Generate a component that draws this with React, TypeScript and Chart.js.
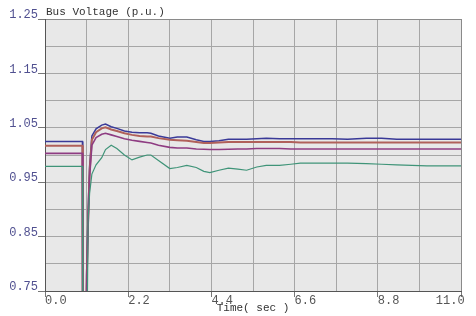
import React, { useEffect, useRef } from "react";
import { Chart, registerables } from "chart.js";

Chart.register(...registerables);

// Time axis (seconds)
const TIME = [
  0, 0.99, 1.0, 1.09, 1.1, 1.14, 1.18, 1.24, 1.35, 1.5, 1.6, 1.75, 1.9, 2.1, 2.3, 2.5, 2.7, 2.8,
  3.0, 3.3, 3.5, 3.75, 4.0, 4.2, 4.36, 4.6, 4.85, 5.1, 5.33, 5.6, 5.85, 6.2, 6.5, 6.75, 7.2, 7.6,
  8.0, 8.5, 8.9, 9.3, 9.7, 10.1, 10.5, 11.0,
];

// Bus voltages (p.u.)
const BUS_BLUE = [
  1.025, 1.025, 0.5, 0.5, 0.78, 0.9, 0.98, 1.035, 1.048, 1.055, 1.057, 1.052, 1.049, 1.044, 1.042,
  1.041, 1.041, 1.04, 1.035, 1.031, 1.033, 1.033, 1.028, 1.025, 1.025, 1.026, 1.029, 1.029, 1.029,
  1.03, 1.031, 1.03, 1.03, 1.03, 1.03, 1.03, 1.029, 1.031, 1.031, 1.029, 1.029, 1.029, 1.029, 1.029,
];
const BUS_BROWN = [
  1.017, 1.017, 0.5, 0.5, 0.76, 0.88, 0.97, 1.028, 1.042, 1.049, 1.051, 1.047, 1.044, 1.04, 1.037,
  1.035, 1.034, 1.034, 1.031, 1.028, 1.027, 1.026, 1.024, 1.022, 1.022, 1.023, 1.024, 1.024, 1.024,
  1.024, 1.024, 1.024, 1.024, 1.023, 1.023, 1.023, 1.023, 1.023, 1.023, 1.023, 1.023, 1.023, 1.023, 1.023,
];
const BUS_PURPLE = [
  1.003, 1.003, 0.5, 0.5, 0.75, 0.87, 0.96, 1.018, 1.032, 1.038, 1.04, 1.037, 1.034, 1.03, 1.027,
  1.025, 1.023, 1.022, 1.018, 1.014, 1.013, 1.013, 1.011, 1.0105, 1.01, 1.01, 1.0105, 1.011, 1.011,
  1.012, 1.012, 1.012, 1.011, 1.011, 1.011, 1.011, 1.011, 1.011, 1.011, 1.011, 1.011, 1.011, 1.011, 1.011,
];
const BUS_GREEN = [
  0.979, 0.979, 0.5, 0.5, 0.5, 0.88, 0.93, 0.965, 0.982, 0.995, 1.01, 1.018, 1.012, 1.0, 0.991,
  0.996, 1.0, 1.0, 0.99, 0.975, 0.977, 0.981, 0.977, 0.97, 0.9675, 0.972, 0.976, 0.974, 0.972,
  0.978, 0.981, 0.981, 0.983, 0.985, 0.985, 0.985, 0.985, 0.984, 0.983, 0.982, 0.981, 0.98, 0.98, 0.98,
];

const X_TICK_LABELS = ["0.0", "2.2", "4.4", "6.6", "8.8", "11.0"];
const Y_TICK_LABELS = ["0.75", "0.85", "0.95", "1.05", "1.15", "1.25"];
const CHART_TITLE = "Bus Voltage (p.u.)";
const X_TITLE = "Time( sec )";

const MONO = '"Liberation Mono", "Courier New", monospace';

export default function App() {
  const ref = useRef<HTMLCanvasElement>(null);

  useEffect(() => {
    const canvas = ref.current!;
    const mk = (vals: number[]) => TIME.map((t, i) => ({ x: t, y: vals[i] }));

    const bgPlugin = {
      id: "plotBg",
      beforeDraw(chart: any) {
        const { ctx, chartArea } = chart;
        ctx.save();
        ctx.fillStyle = "#ffffff";
        ctx.fillRect(0, 0, chart.width, chart.height);
        ctx.fillStyle = "#e8e8e8";
        ctx.fillRect(chartArea.left, chartArea.top, chartArea.right - chartArea.left, chartArea.bottom - chartArea.top);
        ctx.restore();
      },
      afterDraw(chart: any) {
        const { ctx, chartArea } = chart;
        ctx.save();
        ctx.font = `11px ${MONO}`;
        ctx.fillStyle = "#333333";
        ctx.textAlign = "left";
        ctx.textBaseline = "alphabetic";
        ctx.fillText(CHART_TITLE, chartArea.left + 1, 15);
        ctx.restore();
      },
    };

    const line = (data: number[], color: string, width: number) => ({
      data: mk(data),
      borderColor: color,
      borderWidth: width,
      pointRadius: 0,
      tension: 0,
      fill: false,
    });

    const chart = new Chart(canvas, {
      type: "line",
      data: {
        datasets: [
          line(BUS_GREEN, "#3f9478", 1.2),
          line(BUS_PURPLE, "#8e3c82", 1.6),
          line(BUS_BROWN, "#b0605a", 2),
          line(BUS_BLUE, "#3a3a98", 1.5),
        ] as any,
      },
      options: {
        animation: false,
        responsive: false,
        maintainAspectRatio: false,
        layout: { padding: { top: 19, right: 15, left: 0, bottom: 0 } },
        plugins: { legend: { display: false }, tooltip: { enabled: false } },
        scales: {
          x: {
            type: "linear",
            min: 0,
            max: 11,
            afterFit(scale: any) {
              scale.height = 25;
              scale.paddingLeft = 0;
              scale.paddingRight = 0;
            },
            ticks: {
              stepSize: 1.1,
              autoSkip: false,
              maxRotation: 0,
              minRotation: 0,
              padding: -3,
              color: "#555555",
              font: { family: MONO, size: 12 },
              callback: (_v: any, i: number) => {
                if (i % 2 !== 0) return "";
                const lab = X_TICK_LABELS[i / 2];
                if (lab === undefined) return "";
                return i / 2 === X_TICK_LABELS.length - 1 ? lab + "   " : "   " + lab;
              },
            },
            grid: {
              color: (c: any) => (c.index === 10 ? "#8a8a8a" : "#a6a6a6"),
              lineWidth: 1,
              tickLength: 6,
              tickColor: (c: any) => (c.index % 2 === 0 ? "#777777" : "rgba(0,0,0,0)"),
            },
            border: { color: "#555555", width: 1 },
            title: {
              display: true,
              text: X_TITLE,
              color: "#333333",
              font: { family: MONO, size: 11 },
              padding: { top: 0, bottom: 1 },
            },
          },
          y: {
            type: "linear",
            min: 0.75,
            max: 1.25,
            afterFit(scale: any) {
              scale.width = 45;
            },
            ticks: {
              stepSize: 0.05,
              autoSkip: false,
              padding: 0,
              labelOffset: -4,
              color: "#505090",
              font: { family: MONO, size: 12 },
              callback: (_v: any, i: number) => (i % 2 === 0 ? Y_TICK_LABELS[i / 2] ?? "" : ""),
            },
            grid: {
              color: (c: any) => (c.index === 10 ? "#8a8a8a" : "#a6a6a6"),
              lineWidth: 1,
              tickLength: 7,
              tickColor: (c: any) => (c.index % 2 === 0 ? "#777777" : "rgba(0,0,0,0)"),
            },
            border: { color: "#555555", width: 1 },
          },
        },
      } as any,
      plugins: [bgPlugin],
    });

    return () => chart.destroy();
  }, []);

  return (
    <div style={{ position: "fixed", left: 0, top: 0, width: 476, height: 316, background: "#ffffff" }}>
      <canvas ref={ref} width={476} height={316} style={{ width: 476, height: 316, display: "block" }} />
    </div>
  );
}
